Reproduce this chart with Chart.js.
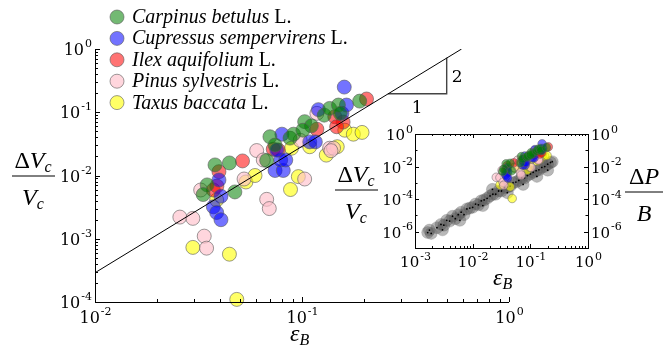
<!DOCTYPE html>
<html>
<head>
<meta charset="utf-8">
<script src="https://cdn.jsdelivr.net/npm/chart.js@4.4.0/dist/chart.umd.min.js"></script>
<style>
html, body { margin: 0; padding: 0; background: #fff; }
#wrap { position: relative; width: 663px; height: 349px; }
#wrap canvas { position: absolute; left: 0; top: 0; }
</style>
</head>
<body>
<div id="wrap">
  <canvas id="mainChart" width="663" height="349"></canvas>
  <canvas id="insetChart" width="663" height="349"></canvas>
</div>
<script>
// species names and colours
const speciesNames = ['Carpinus betulus', 'Cupressus sempervirens', 'Ilex aquifolium', 'Pinus sylvestris', 'Taxus baccata'];
const speciesColors = ['rgba(0,128,0,0.55)', 'rgba(0,0,255,0.55)', 'rgba(255,0,0,0.55)', 'rgba(255,192,203,0.65)', 'rgba(255,255,0,0.6)'];

// [eps_B, dVc/Vc]
const carpinus = [[0.038,0.0147],[0.0446,0.0158],[0.0348,0.0071],[0.0333,0.0050],[0.0474,0.0055],[0.0675,0.0173],
  [0.070,0.041],[0.0741,0.0303],[0.0875,0.039],[0.091,0.045],[0.103,0.071],[0.111,0.061],[0.101,0.052],
  [0.128,0.090],[0.136,0.115],[0.150,0.130],[0.153,0.096],[0.19,0.15]];
const cupressus = [[0.0397,0.0085],[0.0406,0.0047],[0.0373,0.0032],[0.0387,0.0026],[0.0406,0.0020],[0.0741,0.012],
  [0.0812,0.012],[0.0789,0.0176],[0.080,0.045],[0.0755,0.0253],[0.109,0.034],[0.116,0.034],[0.120,0.11],
  [0.156,0.096],[0.164,0.130],[0.160,0.25],[0.0835,0.0176]];
const ilex = [[0.0397,0.0115],[0.0516,0.017],[0.0373,0.0059],[0.0388,0.0068],[0.0726,0.026],[0.0768,0.0253],
  [0.118,0.054],[0.144,0.085],[0.158,0.070],[0.147,0.059],[0.205,0.162]];
const pinus = [[0.0257,0.0022],[0.0297,0.0021],[0.0337,0.0011],[0.0346,0.00071],[0.0324,0.0059],[0.0525,0.0088],
  [0.0675,0.0042],[0.0695,0.0030],[0.0604,0.0248],[0.065,0.0176],[0.098,0.036],[0.103,0.0088],
  [0.136,0.027],[0.142,0.027],[0.138,0.0247],[0.118,0.096]];
const taxus = [[0.0297,0.00073],[0.0446,0.00057],[0.0484,0.00011],[0.0387,0.0041],[0.0536,0.0079],[0.0593,0.010],
  [0.088,0.0060],[0.096,0.0096],[0.089,0.027],[0.109,0.0285],[0.131,0.021],[0.148,0.0285],[0.161,0.052],
  [0.177,0.045],[0.195,0.048]];
const speciesData = [carpinus, cupressus, ilex, pinus, taxus];

// inset: [eps_B, dP/B]
const pressureBand = [[1.66e-3,8.9e-7],[1.78e-3,1.26e-6],[1.91e-3,7.9e-7],[2.40e-3,1.78e-6],[2.82e-3,2.82e-6],
  [3.16e-3,2.51e-6],[3.0e-3,1.3e-6],[3.55e-3,5.0e-6],[3.98e-3,4.47e-6],[4.47e-3,8.9e-6],[5.01e-3,6.3e-6],
  [6.0e-3,5.0e-6],[5.62e-3,1.12e-5],[6.31e-3,1.58e-5],[7.08e-3,1.12e-5],[7.94e-3,2.51e-5],[8.91e-3,2.82e-5],
  [1.0e-2,3.16e-5],[1.12e-2,5.0e-5],[1.26e-2,4.47e-5],[1.5e-2,4.0e-5],[1.41e-2,7.9e-5],[1.58e-2,8.9e-5],
  [1.78e-2,1.12e-4],[2.0e-2,1.58e-4],[2.24e-2,2.0e-4],[2.2e-2,4.0e-4],[2.51e-2,2.0e-4],[2.82e-2,3.16e-4],
  [3.16e-2,3.16e-4],[3.55e-2,5.0e-4],[4.0e-2,2.5e-4],[3.98e-2,5.6e-4],[4.47e-2,6.3e-4],[5.01e-2,1.0e-3],
  [5.62e-2,1.12e-3],[6.31e-2,1.41e-3],[7.5e-2,8.0e-4],[7.08e-2,2.0e-3],[7.94e-2,2.0e-3],[8.91e-2,2.82e-3],
  [0.09,6.0e-3],[0.1,3.55e-3],[0.112,4.47e-3],[0.126,5.6e-3],[0.13,2.5e-3],[0.141,6.3e-3],[0.158,8.9e-3],
  [0.178,1.0e-2],[0.2,6.0e-3],[0.2,1.41e-2],[0.224,1.78e-2],[0.24,2.0e-2],[0.16,2.5e-2]];

// slope-2 guide line and its triangle
const guideLine = [[0.01,2.9e-4],[0.59,1.0]];
const slopeTriangle = [[0.26,0.196],[0.5,0.196],[0.5,0.725]];

const mainXMajor = [0.01, 0.1, 1];
const mainYMajor = [1e-4, 1e-3, 1e-2, 1e-1, 1];
const insetXMajor = [1e-3, 1e-2, 1e-1, 1];
const insetYMajor = [1e-6, 1e-4, 1e-2, 1];
const insetYMinor = [1e-7, 1e-5, 1e-3, 1e-1];

const toXY = arr => arr.map(p => ({x: p[0], y: p[1]}));
const SERIF = '"DejaVu Serif", serif';
const TEXT = '"Liberation Serif", "Times New Roman", serif';

function minorsOf(majors) {
    let out = [];
    for (let i = 0; i < majors.length - 1; i++) {
        for (let k = 2; k <= 9; k++) out.push(majors[i] * k);
    }
    return out;
}

function drawPow(ctx, value, x, y, align, size) {
    let exp = String(Math.round(Math.log10(value)));
    ctx.font = size + 'px ' + SERIF;
    let w1 = ctx.measureText('10').width;
    ctx.font = Math.round(size * 0.7) + 'px ' + SERIF;
    let w2 = ctx.measureText(exp).width;
    let start = align === 'right' ? x - w1 - w2 : (align === 'center' ? x - (w1 + w2) / 2 : x);
    ctx.textAlign = 'left';
    ctx.textBaseline = 'alphabetic';
    ctx.font = size + 'px ' + SERIF;
    ctx.fillText('10', start, y);
    ctx.font = Math.round(size * 0.7) + 'px ' + SERIF;
    ctx.fillText(exp, start + w1 + 1, y - size * 0.5);
}

// math text: pieces of [text, italic, size, dy]
function drawMath(ctx, pieces, x, y, align) {
    let total = 0;
    pieces.forEach(p => {
        ctx.font = (p[1] ? 'italic ' : '') + p[2] + 'px ' + TEXT;
        p.w = ctx.measureText(p[0]).width;
        total += p.w;
    });
    let cx = align === 'center' ? x - total / 2 : x;
    ctx.textAlign = 'left';
    ctx.textBaseline = 'alphabetic';
    pieces.forEach(p => {
        ctx.font = (p[1] ? 'italic ' : '') + p[2] + 'px ' + TEXT;
        ctx.fillText(p[0], cx, y + (p[3] || 0));
        cx += p.w;
    });
}

function drawFraction(ctx, num, den, cx, barY, x0, x1) {
    drawMath(ctx, num, cx, barY - 8, 'center');
    ctx.beginPath();
    ctx.moveTo(x0, barY);
    ctx.lineTo(x1, barY);
    ctx.lineWidth = 1;
    ctx.strokeStyle = '#000';
    ctx.stroke();
    drawMath(ctx, den, cx, barY + 29, 'center');
}

const dVcNum = [['Δ', false, 24], ['V', true, 24], ['c', true, 16, 4]];
const dVcDen = [['V', true, 24], ['c', true, 16, 4]];

const mainDecorations = {
    id: 'mainDecorations',
    afterDraw(chart) {
        const ctx = chart.ctx, xs = chart.scales.x, ys = chart.scales.y, a = chart.chartArea;
        ctx.save();
        ctx.fillStyle = '#000';
        ctx.strokeStyle = '#000';
        ctx.lineWidth = 1;
        ctx.beginPath();
        ctx.moveTo(a.left + 0.5, a.top);
        ctx.lineTo(a.left + 0.5, a.bottom + 0.5);
        ctx.lineTo(a.right, a.bottom + 0.5);
        ctx.stroke();
        ctx.beginPath();
        mainXMajor.forEach(v => { let px = Math.round(xs.getPixelForValue(v)) + 0.5; ctx.moveTo(px, a.bottom); ctx.lineTo(px, a.bottom - 5); });
        minorsOf(mainXMajor).forEach(v => { let px = Math.round(xs.getPixelForValue(v)) + 0.5; ctx.moveTo(px, a.bottom); ctx.lineTo(px, a.bottom - 3); });
        mainYMajor.forEach(v => { let py = Math.round(ys.getPixelForValue(v)) + 0.5; ctx.moveTo(a.left, py); ctx.lineTo(a.left + 5, py); });
        minorsOf(mainYMajor).forEach(v => { let py = Math.round(ys.getPixelForValue(v)) + 0.5; ctx.moveTo(a.left, py); ctx.lineTo(a.left + 3, py); });
        ctx.stroke();

        mainXMajor.forEach(v => drawPow(ctx, v, xs.getPixelForValue(v), a.bottom + 21, 'center', 16));
        mainYMajor.forEach(v => drawPow(ctx, v, a.left - 4, ys.getPixelForValue(v) + 6, 'right', 16));

        drawFraction(ctx, dVcNum, dVcDen, 33, 176, 12, 55);
        drawMath(ctx, [['ε', true, 24], ['B', true, 16, 4]], 290, 341, 'left');

        // slope labels
        ctx.font = '17px ' + SERIF;
        ctx.textAlign = 'left';
        ctx.fillText('2', xs.getPixelForValue(0.5) + 5, ys.getPixelForValue(0.38) + 6);
        ctx.textAlign = 'center';
        ctx.fillText('1', xs.getPixelForValue(0.36), ys.getPixelForValue(0.196) + 19);

        // legend
        speciesNames.forEach((name, i) => {
            let ry = 17 + i * 21.4;
            ctx.beginPath();
            ctx.arc(117, ry, 7, 0, Math.PI * 2);
            ctx.fillStyle = speciesColors[i];
            ctx.fill();
            ctx.strokeStyle = 'rgba(90,90,90,0.6)';
            ctx.stroke();
            ctx.fillStyle = '#000';
            drawMath(ctx, [[name, true, 20], [' L.', false, 20]], 132, ry + 6, 'left');
        });
        ctx.restore();
    }
};

const insetDecorations = {
    id: 'insetDecorations',
    afterDraw(chart) {
        const ctx = chart.ctx, xs = chart.scales.x, ys = chart.scales.y, a = chart.chartArea;
        ctx.save();
        ctx.fillStyle = '#000';
        ctx.strokeStyle = '#000';
        ctx.lineWidth = 1;
        ctx.strokeRect(a.left + 0.5, a.top + 0.5, a.right - a.left, a.bottom - a.top);
        ctx.beginPath();
        insetXMajor.forEach(v => { let px = Math.round(xs.getPixelForValue(v)) + 0.5;
            ctx.moveTo(px, a.bottom); ctx.lineTo(px, a.bottom - 4); ctx.moveTo(px, a.top); ctx.lineTo(px, a.top + 4); });
        minorsOf(insetXMajor).forEach(v => { let px = Math.round(xs.getPixelForValue(v)) + 0.5;
            ctx.moveTo(px, a.bottom); ctx.lineTo(px, a.bottom - 2); ctx.moveTo(px, a.top); ctx.lineTo(px, a.top + 2); });
        insetYMajor.forEach(v => { let py = Math.round(ys.getPixelForValue(v)) + 0.5;
            ctx.moveTo(a.left, py); ctx.lineTo(a.left + 4, py); ctx.moveTo(a.right, py); ctx.lineTo(a.right - 4, py); });
        insetYMinor.forEach(v => { let py = Math.round(ys.getPixelForValue(v)) + 0.5;
            ctx.moveTo(a.left, py); ctx.lineTo(a.left + 2.5, py); ctx.moveTo(a.right, py); ctx.lineTo(a.right - 2.5, py); });
        ctx.stroke();

        insetXMajor.forEach(v => drawPow(ctx, v, xs.getPixelForValue(v), a.bottom + 19, 'center', 15));
        insetYMajor.forEach(v => {
            drawPow(ctx, v, a.left - 3, ys.getPixelForValue(v) + 6, 'right', 15);
            drawPow(ctx, v, a.right + 3, ys.getPixelForValue(v) + 6, 'left', 15);
        });

        drawFraction(ctx, dVcNum, dVcDen, 356, 190, 335, 378);
        drawFraction(ctx, [['Δ', false, 24], ['P', true, 24]], [['B', true, 24]], 644, 192, 625, 663);
        drawMath(ctx, [['ε', true, 24], ['B', true, 16, 4]], 493, 285, 'left');
        ctx.restore();
    }
};

function speciesDatasets(radius, border) {
    return speciesData.map((arr, i) => ({
        label: speciesNames[i],
        data: toXY(arr),
        backgroundColor: speciesColors[i],
        borderColor: 'rgba(90,90,90,0.6)',
        borderWidth: border,
        pointRadius: radius,
        clip: false,
        order: 1
    }));
}

const commonOptions = (padding, xMin, xMax, yMin, yMax) => ({
    responsive: false,
    animation: false,
    events: [],
    layout: { padding: padding },
    plugins: { legend: { display: false }, tooltip: { enabled: false } },
    scales: {
        x: { type: 'logarithmic', min: xMin, max: xMax, display: false },
        y: { type: 'logarithmic', min: yMin, max: yMax, display: false }
    }
});

let mainDatasets = speciesDatasets(7, 1);
mainDatasets.push({
    data: toXY(guideLine), showLine: true, borderColor: '#000', borderWidth: 1, pointRadius: 0, fill: false, order: 0
});
mainDatasets.push({
    data: toXY(slopeTriangle), showLine: true, borderColor: '#444', borderWidth: 1.4, pointRadius: 0, fill: false, order: 0
});

new Chart(document.getElementById('mainChart').getContext('2d'), {
    type: 'scatter',
    data: { datasets: mainDatasets },
    options: commonOptions({left: 95, top: 49, right: 154, bottom: 47}, 0.01, 1, 1e-4, 1),
    plugins: [mainDecorations]
});

let insetDatasets = speciesDatasets(4.3, 0.8);
insetDatasets.push({
    data: toXY(pressureBand), backgroundColor: 'rgba(85,85,85,0.42)', borderColor: 'rgba(85,85,85,0.42)',
    borderWidth: 0.5, pointRadius: 6, order: 10
});
insetDatasets.push({
    data: toXY(pressureBand), backgroundColor: '#000', borderWidth: 0, pointRadius: 0.9, order: 9
});

new Chart(document.getElementById('insetChart').getContext('2d'), {
    type: 'scatter',
    data: { datasets: insetDatasets },
    options: commonOptions({left: 415, top: 134, right: 75, bottom: 101}, 1e-3, 1, 1e-7, 1),
    plugins: [insetDecorations]
});
</script>
</body>
</html>
